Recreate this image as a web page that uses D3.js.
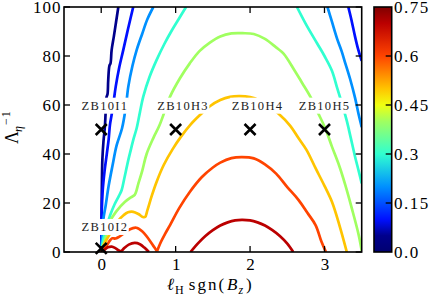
<!DOCTYPE html>
<html><head><meta charset="utf-8">
<script src="https://cdn.jsdelivr.net/npm/d3@7"></script>
<style>
html,body{margin:0;padding:0;background:#fff;}
</style></head>
<body><svg id="c" width="436" height="299" font-family="'Liberation Serif', 'Times New Roman', serif"></svg>
<script>
// ---------- data ----------
const xTicks = [0, 1, 2, 3];
const yTicks = [0, 20, 40, 60, 80, 100];
const cbTicks = [0.0, 0.15, 0.3, 0.45, 0.6, 0.75];
const cbTickLabels = ["0.0", "0.15", "0.3", "0.45", "0.6", "0.75"];
const levels = [0.05, 0.1, 0.2, 0.3, 0.4, 0.5, 0.6, 0.7];

const lev005 = [[0,0],[0.004,10],[0.006,20],[0.01,30],[0.016,38],[0.03,45],[0.05,51.5],[0.058,56],[0.07,63],[0.085,64.5],[0.094,70],[0.11,76],[0.125,77],[0.14,82.4],[0.17,88],[0.2,94],[0.23,100]];
const lev010a = [[0,0],[0.003,8],[0.006,15],[0.02,25],[0.045,33],[0.075,40],[0.1,46],[0.117,51.8],[0.14,56],[0.165,61],[0.195,67.5],[0.24,75],[0.296,82.4],[0.36,91],[0.43,100]];
const lev010b = [[3.32,100],[3.36,95],[3.41,88],[3.45,83],[3.5,78]];
const lev020a = [[0,0],[0.01,5],[0.027,13],[0.06,19],[0.1,27],[0.15,35],[0.207,43.5],[0.28,50.5],[0.33,59],[0.364,67.5],[0.42,76],[0.476,82.4],[0.55,89],[0.62,95],[0.7,100]];
const lev020b = [[3.04,100],[3.1,94],[3.17,87],[3.23,82],[3.28,77],[3.35,70],[3.41,63],[3.46,56],[3.5,51]];
const lev030a = [[0,0],[0.02,4],[0.05,8],[0.073,10.3],[0.12,15],[0.18,19.5],[0.24,23],[0.275,25.3],[0.31,30],[0.36,37],[0.4,42],[0.43,45.7],[0.476,50.5],[0.52,57],[0.565,63.4],[0.65,71.5],[0.745,78.4],[0.85,85],[0.95,90.5],[1.06,96],[1.14,100]];
const lev030b = [[2.63,100],[2.75,93],[2.9,85.2],[3.0,80],[3.1,74],[3.17,67],[3.24,60],[3.3,53.5],[3.35,47],[3.41,39],[3.46,33],[3.5,28]];
const lev040 = [[0,0],[0.03,3],[0.07,7],[0.117,12.4],[0.2,16.5],[0.32,20.5],[0.4,22.3],[0.45,23.3],[0.5,28],[0.55,33],[0.61,40],[0.7,46.5],[0.78,51.5],[0.86,58],[0.925,63.4],[1.06,71],[1.19,77],[1.32,82],[1.46,85.5],[1.6,88],[1.75,89.2],[1.9,89.3],[2.05,89],[2.2,87],[2.35,83.5],[2.45,81],[2.6,74],[2.7,69],[2.81,63.4],[2.91,57],[3.01,50.5],[3.1,43],[3.2,35],[3.28,27.3],[3.37,17.5],[3.46,6.9],[3.5,0.5]];
const lev050 = [[0,0],[0.03,2.5],[0.07,4.9],[0.15,9],[0.22,12.5],[0.3,15],[0.36,16.2],[0.43,16.4],[0.5,15.5],[0.56,14.3],[0.59,14.3],[0.62,17],[0.68,23],[0.745,28.7],[0.84,35.5],[0.96,42],[1.07,47],[1.2,52],[1.33,56],[1.46,59.5],[1.6,62],[1.73,63.3],[1.86,63.6],[2.0,63.2],[2.12,62],[2.25,59.5],[2.38,56.5],[2.54,51.5],[2.65,46.5],[2.76,41.6],[2.88,34.2],[3.0,27],[3.1,20.5],[3.2,11],[3.3,0]];
const lev060a = [[0,0],[0.04,1.5],[0.08,3],[0.12,4.8],[0.15,5.6],[0.19,5.5],[0.23,6],[0.3,7.5],[0.38,9.2],[0.47,9.9],[0.55,8.5],[0.62,6],[0.7,2.5],[0.75,0.3]];
const lev060b = [[0.75,0.3],[0.8,4],[0.86,7.5],[0.925,11],[1.05,18],[1.19,24.5],[1.35,30.5],[1.5,34.5],[1.6,36.5],[1.75,38.3],[1.89,38.7],[2.05,38.2],[2.2,35.8],[2.35,32],[2.5,26.5],[2.65,21.3],[2.77,16],[2.88,11],[2.96,4.2],[3.02,0]];
const lev070a = [[0,0],[0.04,0.8],[0.09,1.9],[0.14,2.2],[0.19,1.6],[0.24,0.6],[0.27,0.4],[0.31,1.6],[0.37,3],[0.45,3.7],[0.52,3.2],[0.58,1.8],[0.64,0]];
const lev070b = [[1.2,0],[1.3,3.5],[1.4,6.5],[1.5,8.9],[1.6,10.8],[1.7,12.1],[1.8,12.9],[1.89,13.1],[2.0,12.9],[2.1,12.1],[2.2,10.8],[2.3,8.9],[2.4,6.5],[2.5,3.4],[2.58,0]];

const contourSets = [
  [levels[0], [lev005]],
  [levels[1], [lev010a, lev010b]],
  [levels[2], [lev020a, lev020b]],
  [levels[3], [lev030a, lev030b]],
  [levels[4], [lev040]],
  [levels[5], [lev050]],
  [levels[6], [lev060a, lev060b]],
  [levels[7], [lev070a, lev070b]]
];

const runNames = ["ZB10I1", "ZB10H3", "ZB10H4", "ZB10H5", "ZB10I2"];
const runX = [0, 1, 2, 3, 0];
const runY = [50, 50, 50, 50, 1.5];
const labelX = [0.05, 1.1, 2.1, 3.0, 0.05];
const labelY = [59.8, 59.8, 59.8, 59.8, 10.3];

// ---------- drawing ----------
const FONT = "'Liberation Serif', 'Times New Roman', serif";
const svg = d3.select("#c");
const L = 64, R = 361.7, T = 7, B = 252;
const x = d3.scaleLinear().domain([-0.5, 3.5]).range([L, R]);
const y = d3.scaleLinear().domain([0, 100]).range([B, T]);

const cmapStops = [
  [0.0, "#000070"], [0.05, "#00008c"], [0.1, "#0010ff"], [0.2, "#0090ff"],
  [0.3, "#30ffd0"], [0.4, "#a0ff60"], [0.45, "#f0ff10"], [0.5, "#ffc400"],
  [0.6, "#ff4400"], [0.7, "#bb0000"], [0.75, "#800000"]
];
const cmap = d3.scaleLinear().domain(cmapStops.map(d => d[0])).range(cmapStops.map(d => d[1]));

const defs = svg.append("defs");
defs.append("clipPath").attr("id", "clip")
  .append("rect").attr("x", L).attr("y", T).attr("width", R - L).attr("height", B - T);

const line = d3.line().x(d => x(d[0])).y(d => y(d[1])).curve(d3.curveCatmullRom.alpha(0.5));
const gLines = svg.append("g").attr("clip-path", "url(#clip)");
contourSets.forEach(([lv, segs]) => {
  segs.forEach(seg => {
    gLines.append("path").attr("d", line(seg)).attr("fill", "none")
      .attr("stroke", cmap(lv)).attr("stroke-width", 2.7)
      .attr("stroke-linejoin", "round").attr("stroke-linecap", "butt");
  });
});

function txt(sel) { return sel.append("text").attr("font-family", FONT); }

// labels with white boxes
const gLab = svg.append("g");
runNames.forEach((n, i) => {
  const t = txt(gLab).attr("x", x(labelX[i])).attr("y", y(labelY[i]) + 4.2)
    .attr("text-anchor", "middle").attr("font-size", 12.5).attr("letter-spacing", 1.3)
    .attr("fill", "#222").text(n);
  const bb = t.node().getBBox();
  gLab.insert("rect", "text").attr("x", bb.x - 1.5).attr("y", bb.y - 1).attr("width", bb.width + 2)
    .attr("height", bb.height + 2).attr("fill", "#fff");
});

// markers
const gM = svg.append("g");
runNames.forEach((n, i) => {
  const cx = x(runX[i]), cy = y(runY[i]), s = 5.5;
  gM.append("path").attr("d", `M${cx - s},${cy - s}L${cx + s},${cy + s}M${cx - s},${cy + s}L${cx + s},${cy - s}`)
    .attr("stroke", "#000").attr("stroke-width", 2.6).attr("fill", "none");
});

// frame and ticks
svg.append("rect").attr("x", L).attr("y", T).attr("width", R - L).attr("height", B - T)
  .attr("fill", "none").attr("stroke", "#000").attr("stroke-width", 1.6);
const tk = 6;
xTicks.forEach(v => {
  svg.append("line").attr("x1", x(v)).attr("x2", x(v)).attr("y1", B).attr("y2", B - tk).attr("stroke", "#000").attr("stroke-width", 1.3);
  svg.append("line").attr("x1", x(v)).attr("x2", x(v)).attr("y1", T).attr("y2", T + tk).attr("stroke", "#000").attr("stroke-width", 1.3);
  txt(svg).attr("x", x(v) + 0.5).attr("y", 270).attr("text-anchor", "middle")
    .attr("font-size", 17).text(v);
});
yTicks.forEach(v => {
  svg.append("line").attr("x1", L).attr("x2", L + tk).attr("y1", y(v)).attr("y2", y(v)).attr("stroke", "#000").attr("stroke-width", 1.3);
  svg.append("line").attr("x1", R).attr("x2", R - tk).attr("y1", y(v)).attr("y2", y(v)).attr("stroke", "#000").attr("stroke-width", 1.3);
  txt(svg).attr("x", 61.5).attr("y", y(v) + 5.8).attr("text-anchor", "end")
    .attr("font-size", 17).attr("letter-spacing", 1).text(v);
});

// axis labels
const xl = txt(svg).attr("x", 167).attr("y", 290).attr("font-size", 17);
xl.append("tspan").attr("font-style", "italic").text("ℓ");
xl.append("tspan").attr("font-size", 12).attr("dy", 4).attr("dx", 1).text("H");
xl.append("tspan").attr("dy", -4).attr("dx", 5).attr("letter-spacing", 2).text("sgn(");
xl.append("tspan").attr("font-style", "italic").attr("dx", 1).text("B");
xl.append("tspan").attr("font-size", 12).attr("font-style", "italic").attr("dy", 4).attr("dx", 1).text("z");
xl.append("tspan").attr("dy", -4).attr("dx", 3).text(")");

const yl = svg.append("g").attr("transform", "translate(18,128) rotate(-90)");
txt(yl).attr("x", -16).attr("y", 0).attr("font-size", 18).text("Λ");
txt(yl).attr("x", -4).attr("y", 4).attr("font-size", 12).attr("font-style", "italic").text("η");
txt(yl).attr("x", 3).attr("y", -8).attr("font-size", 12).attr("letter-spacing", 1).text("−1");

// colorbar
const cbL = 374, cbR = 391.7;
const cy = d3.scaleLinear().domain([0, 0.75]).range([B, T]);
const grad = defs.append("linearGradient").attr("id", "cbg")
  .attr("x1", 0).attr("y1", 1).attr("x2", 0).attr("y2", 0);
cmapStops.forEach(([v, c]) => grad.append("stop").attr("offset", v / 0.75).attr("stop-color", c));
svg.append("rect").attr("x", cbL).attr("y", T).attr("width", cbR - cbL).attr("height", B - T)
  .attr("fill", "url(#cbg)").attr("stroke", "#000").attr("stroke-width", 1.6);
cbTicks.forEach((v, i) => {
  if (i > 0 && i < cbTicks.length - 1)
    svg.append("line").attr("x1", cbR).attr("x2", cbR - 6).attr("y1", cy(v)).attr("y2", cy(v)).attr("stroke", "#000").attr("stroke-width", 1.3);
  txt(svg).attr("x", 394).attr("y", cy(v) + 5.8).attr("font-size", 17)
    .attr("letter-spacing", 1.5).text(cbTickLabels[i]);
});
</script></body></html>
